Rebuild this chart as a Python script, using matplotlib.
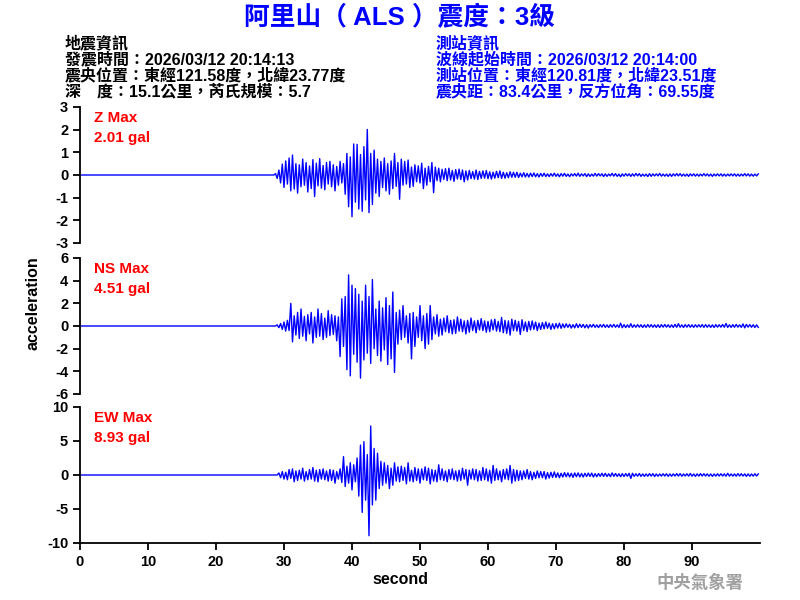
import numpy as np
from matplotlib import pyplot as plt

# station / event header
title = "阿里山（ ALS ）震度：3級"
quake_info = [
    "地震資訊",
    "發震時間：2026/03/12 20:14:13",
    "震央位置：東經121.58度，北緯23.77度",
    "深　度：15.1公里，芮氏規模：5.7",
]
station_info = [
    "測站資訊",
    "波線起始時間：2026/03/12 20:14:00",
    "測站位置：東經120.81度，北緯23.51度",
    "震央距：83.4公里，反方位角：69.55度",
]

# traces are sampled every 0.25 s starting at 28.5 s (flat zero before)
trace_start = 28.5
trace_step = 0.25

z_trace = [
    0.00, 0.06,
    -0.15, 0.22, -0.35, 0.48,
    -0.55, 0.62, -0.40, 0.75,
    -0.70, 0.88, -0.62, 0.50,
    -0.80, 0.45, -0.52, 0.70,
    -0.45, 0.55, -0.75, 0.40,
    -0.60, 0.68, -0.95, 0.52,
    -0.48, 0.72, -0.58, 0.42,
    -0.65, 0.55, -0.40, 0.60,
    -0.52, 0.45, -0.70, 0.38,
    -0.45, 0.60, -0.35, 0.50,
    -0.85, 0.95, -1.40, 0.80,
    -1.84, 1.37, -1.20, 1.35,
    -1.50, 0.90, -1.60, 1.25,
    -1.10, 2.01, -1.66, 0.95,
    -1.30, 1.10, -0.80, 0.70,
    -0.95, 0.60, -0.55, 0.75,
    -0.70, 0.50, -0.85, 0.62,
    -0.60, 0.95, -0.50, 0.55,
    -1.07, 0.70, -0.45, 0.60,
    -0.40, 0.66, -0.55, 0.35,
    -0.50, 0.45, -0.30, 0.40,
    -0.35, 0.52, -0.60, 0.30,
    -0.45, 0.38, -0.30, 0.55,
    -0.78, 0.35, -0.25, 0.30,
    -0.30, 0.25, -0.20, 0.28,
    -0.25, 0.30, -0.22, 0.20,
    -0.28, 0.24, -0.18, 0.26,
    -0.20, 0.22, -0.30, 0.18,
    -0.22, 0.20, -0.16, 0.15,
    -0.18, 0.22, -0.20, 0.16,
    -0.15, 0.18, -0.14, 0.20,
    -0.16, 0.14, -0.18, 0.12,
    -0.14, 0.16, -0.12, 0.18,
    -0.15, 0.12, -0.14, 0.10,
    -0.12, 0.14, -0.10, 0.12,
    -0.10, 0.12, -0.11, 0.08,
    -0.08, 0.10, -0.09, 0.07,
    -0.09, 0.08, -0.07, 0.09,
    -0.08, 0.06, -0.09, 0.07,
    -0.06, 0.08, -0.07, 0.05,
    -0.07, 0.06, -0.05, 0.08,
    -0.06, 0.05, -0.08, 0.06,
    -0.05, 0.07, -0.06, 0.04,
    -0.07, 0.05, -0.04, 0.06,
    -0.05, 0.08, -0.06, 0.05,
    -0.04, 0.06, -0.07, 0.05,
    -0.06, 0.04, -0.05, 0.07,
    -0.05, 0.06, -0.04, 0.05,
    -0.07, 0.05, -0.06, 0.04,
    -0.04, 0.07, -0.05, 0.06,
    -0.06, 0.04, -0.08, 0.05,
    -0.05, 0.06, -0.04, 0.05,
    -0.06, 0.05, -0.05, 0.07,
    -0.04, 0.06, -0.06, 0.04,
    -0.05, 0.04, -0.07, 0.06,
    -0.06, 0.05, -0.04, 0.05,
    -0.04, 0.07, -0.05, 0.04,
    -0.05, 0.04, -0.06, 0.05,
    -0.06, 0.05, -0.04, 0.06,
    -0.04, 0.06, -0.05, 0.04,
    -0.05, 0.04, -0.06, 0.05,
    -0.04, 0.05, -0.05, 0.04,
    -0.05, 0.04, -0.04, 0.06,
    -0.04, 0.05, -0.05, 0.04,
    -0.06, 0.04, -0.04, 0.05,
    -0.04, 0.05, -0.05, 0.04,
    -0.05, 0.04, -0.04, 0.05,
    -0.04, 0.05, -0.05, 0.04,
    -0.05, 0.04, -0.04, 0.06,
    -0.04, 0.05, -0.05, 0.04,
    -0.05, 0.04, -0.04, 0.05,
]

ns_trace = [
    0.00, 0.00,
    0.10, -0.15, 0.22, -0.30,
    0.35, -0.45, 0.50, -0.40,
    2.00, -1.40, 0.90, -0.80,
    1.20, -1.10, 1.50, -0.90,
    0.85, -1.30, 1.00, -0.70,
    1.20, -1.50, 0.80, -1.00,
    1.50, -0.90, 1.10, -1.20,
    0.70, -1.00, 1.35, -0.85,
    1.00, -0.75, 0.90, -1.30,
    0.80, -2.70, 2.40, -1.80,
    2.60, -3.85, 4.51, -4.40,
    3.60, -2.50, 3.30, -3.20,
    2.80, -4.60, 2.20, -3.00,
    3.60, -2.40, 2.60, -3.30,
    4.10, -2.00, 1.50, -2.60,
    2.20, -3.10, 1.60, -2.10,
    2.50, -3.40, 1.80, -2.90,
    3.00, -4.10, 1.20, -1.60,
    1.40, -1.20, 1.80, -1.00,
    0.90, -1.50, 1.10, -2.90,
    1.20, -1.80, 0.80, -1.00,
    1.80, -1.30, 0.90, -2.00,
    1.10, -1.60, 1.80, -1.20,
    0.80, -0.70, 1.00, -0.90,
    0.60, -0.80, 0.70, -0.50,
    0.90, -0.60, 0.50, -0.70,
    0.55, -0.65, 0.80, -0.45,
    0.60, -0.50, 0.45, -0.70,
    0.50, -0.55, 0.70, -0.40,
    0.45, -0.60, 0.50, -0.35,
    0.65, -0.40, 0.45, -0.55,
    0.40, -0.50, 0.55, -0.35,
    0.60, -0.45, 0.40, -0.50,
    0.75, -0.60, 0.50, -0.65,
    0.45, -0.80, 0.60, -0.40,
    0.50, -0.45, 0.40, -0.75,
    0.55, -0.40, 0.35, -0.50,
    0.40, -0.35, 0.45, -0.30,
    0.35, -0.40, 0.25, -0.30,
    0.30, -0.25, 0.35, -0.20,
    0.25, -0.30, 0.20, -0.25,
    0.22, -0.18, 0.25, -0.20,
    0.18, -0.15, 0.20, -0.12,
    0.15, -0.18, 0.12, -0.16,
    0.20, -0.14, 0.16, -0.12,
    0.14, -0.16, 0.12, -0.18,
    0.12, -0.10, 0.15, -0.12,
    0.10, -0.14, 0.12, -0.10,
    0.14, -0.12, 0.10, -0.13,
    0.12, -0.10, 0.14, -0.11,
    0.10, -0.12, 0.25, -0.15,
    0.12, -0.14, 0.10, -0.12,
    0.20, -0.12, 0.10, -0.11,
    0.12, -0.10, 0.11, -0.13,
    0.10, -0.12, 0.13, -0.10,
    0.12, -0.11, 0.10, -0.12,
    0.11, -0.13, 0.12, -0.10,
    0.13, -0.10, 0.11, -0.12,
    0.10, -0.12, 0.14, -0.11,
    0.20, -0.11, 0.10, -0.13,
    0.12, -0.10, 0.12, -0.11,
    0.10, -0.12, 0.11, -0.10,
    0.11, -0.10, 0.13, -0.12,
    0.12, -0.11, 0.10, -0.12,
    0.10, -0.13, 0.12, -0.10,
    0.11, -0.10, 0.13, -0.11,
    0.22, -0.12, 0.10, -0.12,
    0.12, -0.11, 0.14, -0.10,
    0.10, -0.12, 0.18, -0.16,
    0.14, -0.10, 0.12, -0.11,
    0.11, -0.13, 0.10, -0.12,
]

ew_trace = [
    0.00, 0.00,
    0.00, 0.30, -0.40, 0.50,
    -0.60, 0.40, -0.70, 0.80,
    -0.50, 0.90, -1.00, 0.60,
    -0.80, 0.70, -0.60, 1.00,
    -0.90, 0.50, -0.70, 0.80,
    -0.60, 1.10, -0.90, 0.70,
    -1.00, 0.80, -0.60, 0.90,
    -0.70, 0.60, -0.90, 0.80,
    -0.80, 0.70, -1.20, 0.50,
    -0.60, 0.90, -1.10, 2.70,
    -1.70, 1.30, -1.20, 1.80,
    -2.20, 1.50, -1.00, 2.50,
    -3.10, 4.40, -5.50, 4.90,
    -3.70, 3.00, -8.93, 7.20,
    -4.40, 3.90, -3.70, 3.20,
    -2.00, 2.00, -1.50, 1.80,
    -1.20, 1.40, -2.00, 1.00,
    -1.50, 1.80, -0.90, 1.20,
    -1.00, 1.30, -0.80, 1.10,
    -1.30, 1.80, -0.90, 0.70,
    -1.00, 1.10, -0.80, 0.90,
    -1.20, 0.90, -0.70, 1.20,
    -0.80, 1.00, -1.30, 0.80,
    -0.90, 0.70, -1.00, 1.50,
    -0.70, 0.90, -0.80, 0.60,
    -1.00, 0.80, -0.60, 0.90,
    -0.70, 0.60, -0.90, 0.70,
    -0.80, 1.00, -0.60, 0.80,
    -1.50, 0.70, -0.60, 0.90,
    -0.70, 0.80, -0.90, 0.60,
    -0.80, 1.10, -0.70, 0.90,
    -0.90, 0.70, -1.20, 1.40,
    -0.80, 0.90, -0.70, 0.60,
    -1.00, 0.80, -0.60, 0.90,
    -0.70, 1.40, -1.20, 0.80,
    -0.90, 0.70, -0.80, 0.60,
    -0.70, 0.60, -0.50, 0.80,
    -0.60, 0.50, -0.70, 0.40,
    -0.50, 0.60, -0.40, 0.50,
    -0.40, 0.50, -0.60, 0.35,
    -0.45, 0.40, -0.35, 0.45,
    -0.35, 0.30, -0.40, 0.25,
    -0.30, 0.35, -0.25, 0.30,
    -0.28, 0.25, -0.35, 0.30,
    -0.25, 0.30, -0.28, 0.22,
    -0.30, 0.25, -0.22, 0.28,
    -0.22, 0.28, -0.30, 0.20,
    -0.25, 0.22, -0.20, 0.26,
    -0.20, 0.25, -0.22, 0.18,
    -0.24, 0.30, -0.20, 0.22,
    -0.20, 0.18, -0.25, 0.20,
    -0.22, 0.20, -0.18, 0.24,
    -0.50, 0.25, -0.20, 0.18,
    -0.18, 0.22, -0.20, 0.16,
    -0.20, 0.16, -0.18, 0.20,
    -0.16, 0.20, -0.22, 0.15,
    -0.18, 0.15, -0.16, 0.18,
    -0.15, 0.18, -0.20, 0.16,
    -0.18, 0.16, -0.15, 0.20,
    -0.16, 0.20, -0.18, 0.15,
    -0.15, 0.18, -0.16, 0.22,
    -0.18, 0.15, -0.20, 0.16,
    -0.16, 0.20, -0.15, 0.18,
    -0.15, 0.16, -0.18, 0.15,
    -0.20, 0.15, -0.16, 0.18,
    -0.15, 0.18, -0.15, 0.16,
    -0.18, 0.25, -0.16, 0.15,
    -0.16, 0.15, -0.18, 0.20,
    -0.15, 0.18, -0.15, 0.16,
    -0.20, 0.16, -0.18, 0.15,
    -0.16, 0.18, -0.15, 0.16,
]

channels = ["Z", "NS", "EW"]
peaks = ["2.01 gal", "4.51 gal", "8.93 gal"]
y_limits = [3, 6, 10]
y_steps = [1, 2, 5]
x_ticks = [0, 10, 20, 30, 40, 50, 60, 70, 80, 90]

font = ["Liberation Sans", "Noto Sans CJK TC"]
plt.rcParams["font.family"] = font
plt.rcParams["axes.unicode_minus"] = False

fig = plt.figure(figsize=(8, 6), dpi=100)

fig.text(0.5, 1 - 18 / 600, title, color="#0000ff", fontsize=18.5,
         fontweight="bold", ha="center", va="center")
for i, line in enumerate(quake_info):
    fig.text(65 / 800, 1 - (43 + 16.2 * i) / 600, line, color="black",
             fontsize=11.5, fontweight="bold", ha="left", va="center")
for i, line in enumerate(station_info):
    fig.text(436 / 800, 1 - (43 + 16.2 * i) / 600, line, color="#0000ff",
             fontsize=11.5, fontweight="bold", ha="left", va="center")

# panel rectangles in figure fraction (left, bottom, width, height)
panel_tops = [107, 258, 407]
panel_height = 136
traces = [z_trace, ns_trace, ew_trace]

for k in range(3):
    top = panel_tops[k]
    ax = fig.add_axes([80 / 800, 1 - (top + panel_height) / 600,
                       680 / 800, panel_height / 600])
    data = np.array(traces[k])
    t = trace_start + trace_step * np.arange(len(data))
    t = np.concatenate([[0.0], t])
    data = np.concatenate([[0.0], data])
    ax.plot(t, data, color="#0000ff", linewidth=1.0)

    lim = y_limits[k]
    ax.set_xlim(0, 100)
    ax.set_ylim(-lim, lim)
    ax.set_yticks(np.arange(-lim, lim + 1, y_steps[k]))
    ax.spines["top"].set_visible(False)
    ax.spines["right"].set_visible(False)
    ax.spines["left"].set_linewidth(1.3)
    ax.tick_params(axis="y", direction="out", length=5, width=1.3,
                   labelsize=10.5)
    for lab in ax.get_yticklabels():
        lab.set_fontweight("bold")

    if k < 2:
        ax.spines["bottom"].set_visible(False)
        ax.set_xticks([])
    else:
        ax.spines["bottom"].set_linewidth(1.3)
        ax.set_xticks(x_ticks)
        ax.tick_params(axis="x", direction="out", length=5, width=1.3,
                       labelsize=10.5)
        for lab in ax.get_xticklabels():
            lab.set_fontweight("bold")
    ax.patch.set_alpha(0)

    fig.text(94 / 800, 1 - (top + 11) / 600, channels[k] + " Max",
             color="red", fontsize=11, fontweight="bold", va="center")
    fig.text(94 / 800, 1 - (top + 31) / 600, peaks[k],
             color="red", fontsize=11, fontweight="bold", va="center")

fig.text(33 / 800, 1 - 303 / 600, "acceleration", rotation=90,
         fontsize=11.5, fontweight="bold", ha="center", va="center")
fig.text(400 / 800, 1 - 580 / 600, "second", fontsize=11.5,
         fontweight="bold", ha="center", va="center")
fig.text(700 / 800, 1 - 582 / 600, "中央氣象署", color="#a0a0a0",
         fontsize=12.5, fontweight="bold", ha="center", va="center")

fig.savefig("out.png", dpi=100)
